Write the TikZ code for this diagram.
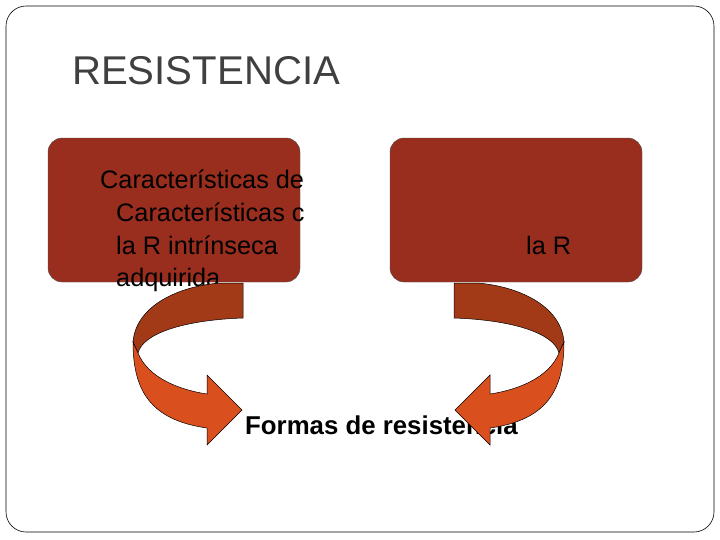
\documentclass[tikz,border=0pt]{standalone}
\usepackage{fontspec}
\setmainfont{Liberation Sans}
\usetikzlibrary{positioning}
\definecolor{boxred}{HTML}{992E1F}
\definecolor{backred}{HTML}{A33A17}
\definecolor{frontred}{HTML}{D9501E}
\tikzstyle{box} = [draw=black!70, fill=boxred, rounded corners=14pt]
\tikzstyle{txt} = [anchor=base west, inner sep=0pt, font=\fontsize{25.2}{29}\selectfont]
\tikzstyle{back} = [draw=black, fill=backred, line width=0.5pt]
\tikzstyle{front} = [draw=black, fill=frontred, line width=0.5pt]

\begin{document}
\begin{tikzpicture}[x=0.035cm, y=-0.035cm]
\useasboundingbox (0,0) rectangle (720,540);

% frame and title
\draw[rounded corners=20pt, line width=0.6pt] (6,6) rectangle (714,532);
\node (title) [anchor=base west, inner sep=0pt, text=black!75, font=\fontsize{40}{44}\selectfont] at (72,84) {RESISTENCIA};

% boxes
\draw[box] (48,138) rectangle (300,282);
\draw[box] (390,138) rectangle (642,282);

% texts
\node (t1) [txt] at (100,188) {Características de};
\node (t2) [txt] at (116,221) {Características c};
\node (t3) [txt] at (116,254) {la R intrínseca};
\node (t4) [txt] at (116,286) {adquirida};
\node (t5) [txt] at (526,254) {la R};
\node (formas) [anchor=base west, inner sep=0pt, font=\bfseries\fontsize{25.7}{29}\selectfont] at (245,434) {Formas de resistencia};

% curved arrows
\foreach \s/\d in {1/0, -1/697} {
  \begin{scope}[xshift=\d*0.035cm, xscale=\s]
    \draw[back] (220,283) -- (243,283) -- (243,318)
      .. controls (185,320) and (143,333) .. (138,353) -- (133,342)
      .. controls (136,305) and (180,286) .. (220,283) -- cycle;
    \draw[front] (133,342) -- (138,353)
      .. controls (148,378) and (180,390) .. (207,394) -- (207,375)
      -- (242,410) -- (207,445) -- (207,428)
      .. controls (150,420) and (133,390) .. (133,342) -- cycle;
  \end{scope}
}

\end{tikzpicture}
\end{document}
